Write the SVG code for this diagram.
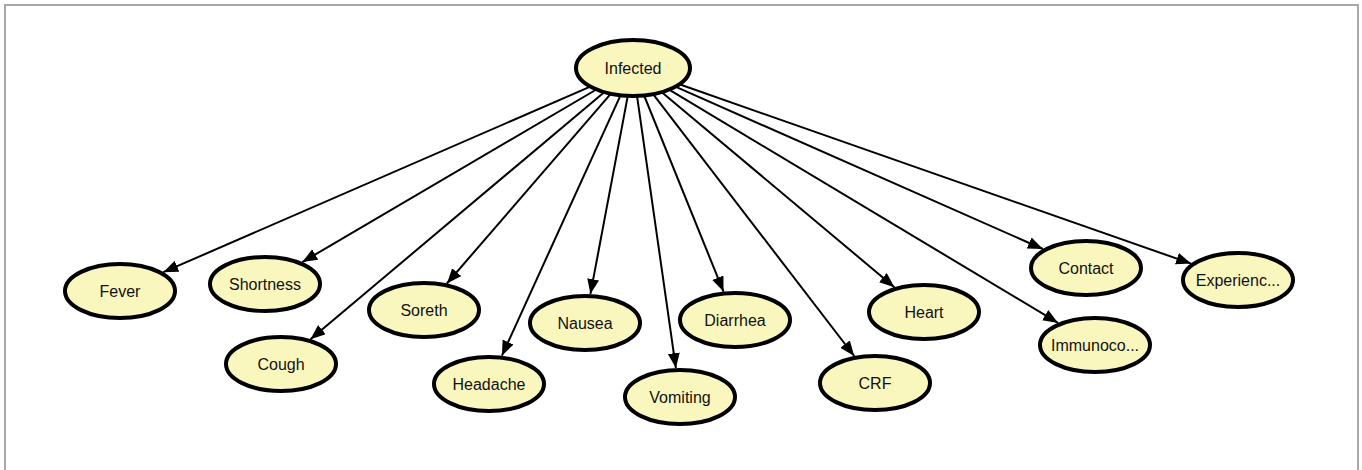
<svg xmlns="http://www.w3.org/2000/svg" width="1362" height="470" viewBox="0 0 1362 470">
<style>
.node ellipse{fill:#faf7be;stroke:#000;stroke-width:4}
.node text{font-family:"Liberation Sans",Arial,sans-serif;font-size:16px;fill:#111;text-anchor:middle;dominant-baseline:central}
.edge{stroke:#000;stroke-width:2;fill:none;marker-end:url(#arr)}
</style>
<defs>
<marker id="arr" markerUnits="userSpaceOnUse" markerWidth="16" markerHeight="13" refX="15" refY="6" orient="auto" viewBox="0 0 16 13">
<path d="M0,0 L15,6 L0,12 z" fill="#000"/>
</marker>
</defs>
<rect x="0" y="0" width="1362" height="470" fill="#fff"/>
<path d="M5,472 V5 H1358 V472" fill="none" stroke="#a8a8a8" stroke-width="2"/>
<g id="connectors">
<line class="edge" x1="590.3" y1="86.6" x2="163.3" y2="272.2"/>
<line class="edge" x1="596.4" y1="89.5" x2="302.3" y2="262.1"/>
<line class="edge" x1="604.2" y1="92.2" x2="310.5" y2="339.2"/>
<line class="edge" x1="610.7" y1="93.8" x2="446.9" y2="283.5"/>
<line class="edge" x1="620.5" y1="95.3" x2="501.9" y2="355.7"/>
<line class="edge" x1="627.8" y1="95.9" x2="590.4" y2="294.1"/>
<line class="edge" x1="637" y1="95.9" x2="675.9" y2="368.1"/>
<line class="edge" x1="644.1" y1="95.5" x2="723.5" y2="291.6"/>
<line class="edge" x1="653.1" y1="94.2" x2="854.2" y2="356"/>
<line class="edge" x1="661.8" y1="92.2" x2="894.4" y2="287.2"/>
<line class="edge" x1="669.1" y1="89.7" x2="1058.1" y2="322.9"/>
<line class="edge" x1="675.4" y1="86.7" x2="1042.9" y2="249"/>
<line class="edge" x1="679.4" y1="84.3" x2="1191.1" y2="263.6"/>
</g>
<g id="infected" class="node"><ellipse cx="633" cy="68" rx="57" ry="28"/><text x="633" y="68">Infected</text></g>
<g id="fever" class="node"><ellipse cx="120" cy="291" rx="55" ry="27"/><text x="120" y="291">Fever</text></g>
<g id="shortness" class="node"><ellipse cx="265" cy="284" rx="55" ry="27"/><text x="265" y="284">Shortness</text></g>
<g id="cough" class="node"><ellipse cx="281" cy="364" rx="55" ry="27"/><text x="281" y="364">Cough</text></g>
<g id="soreth" class="node"><ellipse cx="424" cy="310" rx="55" ry="27"/><text x="424" y="310">Soreth</text></g>
<g id="headache" class="node"><ellipse cx="489" cy="384" rx="55" ry="27"/><text x="489" y="384">Headache</text></g>
<g id="nausea" class="node"><ellipse cx="585" cy="323" rx="55" ry="27"/><text x="585" y="323">Nausea</text></g>
<g id="vomiting" class="node"><ellipse cx="680" cy="397" rx="55" ry="27"/><text x="680" y="397">Vomiting</text></g>
<g id="diarrhea" class="node"><ellipse cx="735" cy="320" rx="55" ry="27"/><text x="735" y="320">Diarrhea</text></g>
<g id="crf" class="node"><ellipse cx="875" cy="383" rx="55" ry="27"/><text x="875" y="383">CRF</text></g>
<g id="heart" class="node"><ellipse cx="924" cy="312" rx="55" ry="27"/><text x="924" y="312">Heart</text></g>
<g id="immunoco" class="node"><ellipse cx="1095" cy="345" rx="55" ry="27"/><text x="1095" y="345">Immunoco...</text></g>
<g id="contact" class="node"><ellipse cx="1086" cy="268" rx="55" ry="27"/><text x="1086" y="268">Contact</text></g>
<g id="experienc" class="node"><ellipse cx="1238" cy="280" rx="55" ry="27"/><text x="1238" y="280">Experienc...</text></g>
</svg>
